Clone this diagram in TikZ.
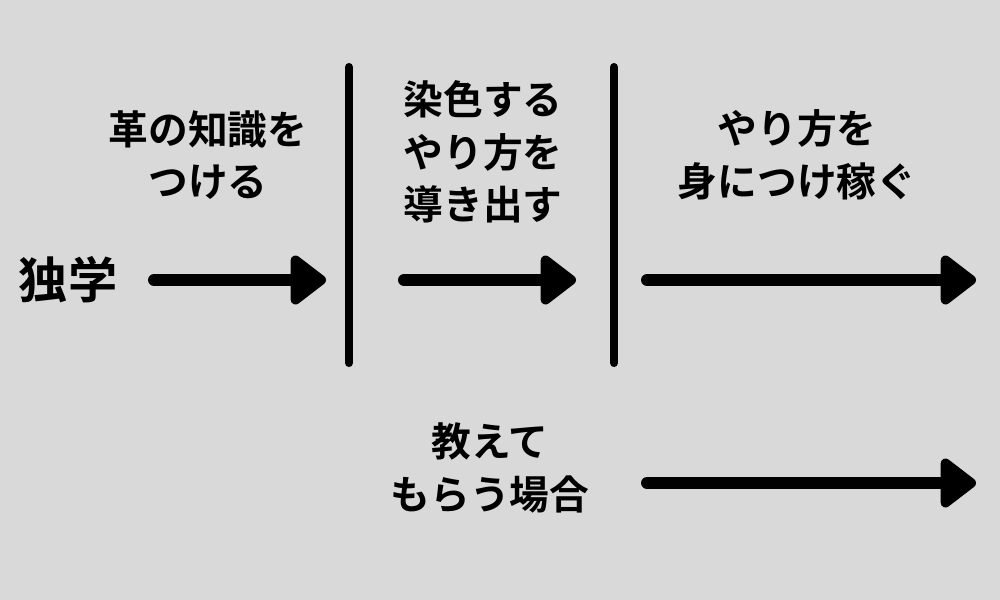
\documentclass[tikz,border=0pt]{standalone}
\usepackage{fontspec}
\setmainfont{Noto Sans CJK JP Bold}
\usetikzlibrary{arrows.meta}
\definecolor{bggray}{HTML}{D9D9D9}
\tikzset{
    label text/.style={align=center, font=\fontsize{11.3pt}{15pt}\selectfont},
    big arrow/.style={line width=3.4pt, -{Triangle[round, length=11pt, width=16pt]}},
    divider/.style={line width=2.3pt}
}
\begin{document}
\begin{tikzpicture}[line cap=round,line join=round, x=0.01cm, y=-0.01cm]
    \fill[bggray] (0,0) rectangle (1000,600);
    \useasboundingbox (0,0) rectangle (1000,600);

    % Texts
    \node[label text, font=\fontsize{14pt}{16pt}\selectfont] (self) at (68,280) {独学};
    \node[label text] (leather) at (208,155) {革の知識を\\つける};
    \node[label text] (dye) at (483,152) {染色する\\やり方を\\導き出す};
    \node[label text] (earn) at (797,155) {やり方を\\身につけ稼ぐ};
    \node[label text] (taught) at (490,468) {教えて\\もらう場合};

    % Dividers
    \coordinate (d1t) at (349,67); \coordinate (d1b) at (349,363);
    \coordinate (d2t) at (614,67); \coordinate (d2b) at (614,363);
    \draw[divider] (d1t) -- (d1b);
    \draw[divider] (d2t) -- (d2b);

    % Arrows
    \foreach \name/\xa/\xb/\yy in {a/154/326/280, b/404/576/280, c/647/976/280, d/647/976/483} {
        \coordinate (\name s) at (\xa,\yy);
        \coordinate (\name e) at (\xb,\yy);
        \draw[big arrow] (\name s) -- (\name e);
    }
\end{tikzpicture}
\end{document}
